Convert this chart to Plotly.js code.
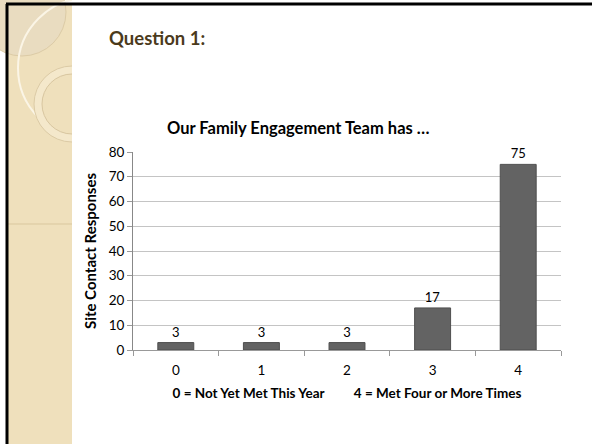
<!DOCTYPE html>
<html>
<head>
<meta charset="utf-8">
<script src="https://cdn.plot.ly/plotly-3.0.1.min.js"></script>
<style>html,body{margin:0;padding:0;background:#fff;}#chart{width:592px;height:444px;}</style>
</head>
<body>
<div id="chart"></div>
<script>
const categories = ["0", "1", "2", "3", "4"];
const responses = [3, 3, 3, 17, 75];
const yTicks = [0, 10, 20, 30, 40, 50, 60, 70, 80];
const slideTitle = "Question 1:";
const chartTitle = "Our Family Engagement Team has …";
const yTitle = "Site Contact Responses";
const xTitle = "0 = Not Yet Met This Year\u00a0\u00a0\u00a0\u00a0\u00a0\u00a0\u00a0\u00a0\u00a04 = Met Four or More Times";

const W = 592, H = 444, ML = 133, MR = 31, MT = 152, MB = 94;
const PW = W - ML - MR, PH = H - MT - MB;
const px = x => (x - ML) / PW;
const py = y => (H - MB - y) / PH;
const FONT = "Lato, 'Open Sans', sans-serif";

function rectP(x0, y0, x1, y1, fill) {
  return {type: 'rect', xref: 'paper', yref: 'paper', layer: 'below',
    x0: px(x0), x1: px(x1), y0: py(y1), y1: py(y0), fillcolor: fill, line: {width: 0}};
}
function circP(cx, cy, r, fill, stroke, sw) {
  return {type: 'circle', xref: 'paper', yref: 'paper', layer: 'below',
    x0: px(cx - r), x1: px(cx + r), y0: py(cy + r), y1: py(cy - r),
    fillcolor: fill, line: {color: stroke, width: sw}};
}
function lineP(x0, y0, x1, y1, color, w) {
  return {type: 'line', xref: 'paper', yref: 'paper', layer: 'below',
    x0: px(x0), x1: px(x1), y0: py(y0), y1: py(y1), line: {color: color, width: w}};
}

const shapes = [
  rectP(8, 5, 72, 444, '#EFE0BC'),
  circP(22, 12, 44, '#E9DCC0', '#DCCBA6', 1),
  circP(88, 68, 70, 'rgba(0,0,0,0)', '#FBF5E6', 2),
  circP(72, 104, 38, '#F4E8CB', '#DCCBA6', 1),
  circP(72, 104, 30, '#EFE0BC', '#D8C6A0', 1),
  rectP(72, 0, 592, 444, '#FFFFFF'),
  lineP(8, 224, 72, 224, '#D9C79E', 1),
  lineP(6, 4, 592, 4, '#000000', 3),
  lineP(7, 4, 7, 444, '#000000', 3)
];

const trace = {
  type: 'bar', x: categories, y: responses,
  width: 0.42,
  marker: {color: '#636363', line: {color: '#4f4f4f', width: 1}},
  text: responses.map(String), textposition: 'outside',
  textfont: {family: FONT, size: 13, color: '#000'},
  cliponaxis: false, hoverinfo: 'none'
};

const layout = {
  width: W, height: H,
  margin: {l: ML, r: MR, t: MT, b: MB, pad: 0},
  paper_bgcolor: '#FFFFFF', plot_bgcolor: 'rgba(0,0,0,0)',
  showlegend: false,
  font: {family: FONT, size: 13, color: '#000'},
  xaxis: {
    type: 'category', tickson: 'boundaries', ticks: 'outside', ticklen: 5,
    tickcolor: '#999', showline: true, linecolor: '#999', linewidth: 1,
    showgrid: false, ticklabelstandoff: 8,
    tickfont: {family: FONT, size: 13.5, color: '#000'},
    title: {text: xTitle, font: {family: FONT, size: 13.5, color: '#000', weight: 'bold'}, standoff: 11}
  },
  yaxis: {
    range: [0, 80], tickvals: yTicks, ticks: 'outside', ticklen: 5, tickcolor: '#999',
    showline: true, linecolor: '#888', linewidth: 1,
    gridcolor: '#C4C4C4', gridwidth: 1, zeroline: false,
    tickfont: {family: FONT, size: 13.5, color: '#000'},
    title: {text: yTitle, font: {family: FONT, size: 15, color: '#000', weight: 'bold'}, standoff: 8}
  },
  shapes: shapes,
  annotations: [
    {text: '<b>' + slideTitle + '</b>', xref: 'paper', yref: 'paper', x: px(107), y: py(38),
     xanchor: 'left', yanchor: 'middle', showarrow: false,
     font: {family: FONT, size: 18.5, color: '#4B3A1C'}},
    {text: '<b>' + chartTitle + '</b>', xref: 'paper', yref: 'paper', x: px(298), y: py(128),
     xanchor: 'center', yanchor: 'middle', showarrow: false,
     font: {family: FONT, size: 16.5, color: '#000'}}
  ]
};

Plotly.newPlot('chart', [trace], layout, {displayModeBar: false, staticPlot: true});
</script>
</body>
</html>
